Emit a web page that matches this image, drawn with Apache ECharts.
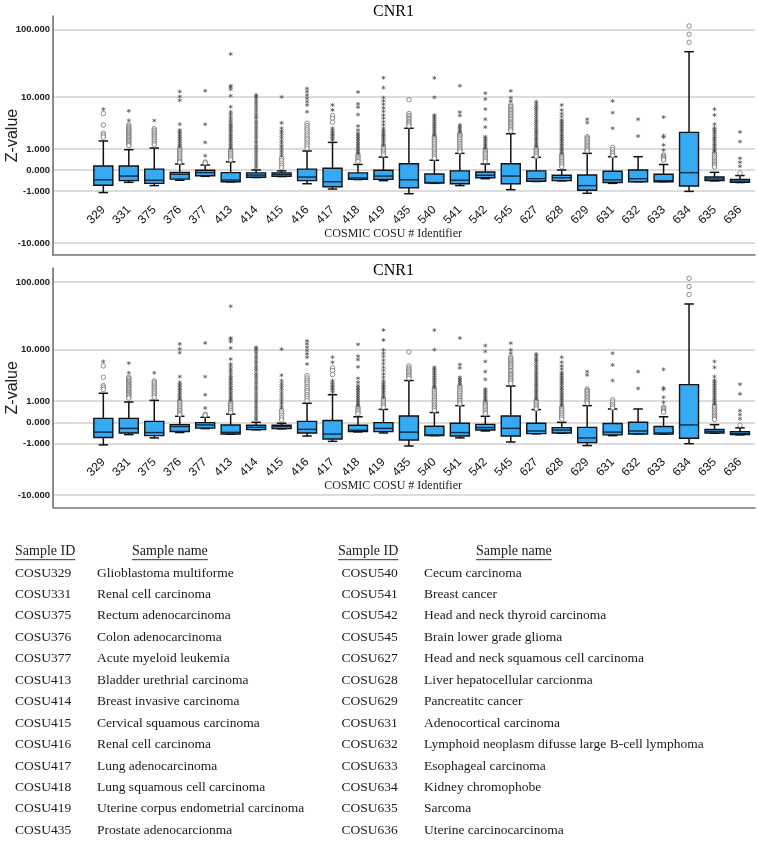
<!DOCTYPE html>
<html>
<head>
<meta charset="utf-8">
<title>CNR1</title>
<script src="https://cdn.jsdelivr.net/npm/echarts@6/dist/echarts.min.js"></script>
<style>
  html, body { margin: 0; padding: 0; background: #fff; }
  #main { width: 758px; height: 841px; }
</style>
</head>
<body>
<div id="main"></div>
<script>
// COSMIC COSU identifiers (x categories)
var categories = ['329', '331', '375', '376', '377', '413', '414', '415', '416', '417', '418', '419', '435',
  '540', '541', '542', '545', '627', '628', '629', '631', '632', '633', '634', '635', '636'];

// [lower whisker, Q1, median, Q3, upper whisker] in Z-value
var boxValues = [
  [-1.1, -0.65, -0.38, 0.14, 1.6],
  [-0.5, -0.42, -0.22, 0.14, 0.95],
  [-0.67, -0.55, -0.40, 0.03, 1.06],
  [-0.40, -0.35, -0.15, -0.08, 0.22],
  [-0.23, -0.21, -0.09, -0.01, 0.18],
  [-0.48, -0.47, -0.39, -0.09, 0.31],
  [-0.28, -0.27, -0.18, -0.10, 0.0],
  [-0.24, -0.23, -0.15, -0.10, -0.03],
  [-0.57, -0.42, -0.26, 0.03, 0.87],
  [-0.87, -0.73, -0.47, 0.06, 1.48],
  [-0.37, -0.36, -0.30, -0.10, 0.2],
  [-0.42, -0.36, -0.22, -0.01, 0.53],
  [-1.18, -0.79, -0.38, 0.23, 2.95],
  [-0.55, -0.54, -0.51, -0.14, 0.38],
  [-0.67, -0.57, -0.40, -0.03, 0.73],
  [-0.33, -0.29, -0.19, -0.07, 0.22],
  [-0.91, -0.57, -0.22, 0.23, 2.3],
  [-0.46, -0.45, -0.33, -0.03, 0.52],
  [-0.43, -0.42, -0.29, -0.19, 0.0],
  [-1.15, -0.95, -0.67, -0.18, 0.73],
  [-0.55, -0.51, -0.38, -0.04, 0.55],
  [-0.47, -0.47, -0.33, 0.0, 0.55],
  [-0.47, -0.47, -0.42, -0.15, 0.2],
  [-1.02, -0.69, -0.09, 2.45, 48],
  [-0.43, -0.42, -0.345, -0.26, -0.08],
  [-0.51, -0.5, -0.44, -0.36, -0.2]
];

// extreme outliers (*), one list per category
var starOutliers = [
  [6.4],
  [6.0, 4.1],
  [4.1],
  [12.2, 10.2, 8.9, 3.5, 2.73, 2.5, 2.35, 2.15, 2.0, 1.85, 1.68, 1.55, 1.4, 1.28, 1.15],
  [12.6, 3.5, 1.48, 0.6],
  [44.4, 15.0, 14.3, 13.2, 10.5, 7.0, 5.8, 5.3, 4.8, 4.4, 4.0, 3.65, 3.4, 3.16, 2.95, 2.73, 2.55, 2.35, 2.15, 2.0, 1.85, 1.68, 1.55, 1.4, 1.28, 1.15, 1.04],
  [10.8, 10.2, 9.6, 8.8, 8.0, 7.3, 6.6, 6.0, 5.4, 4.9, 4.5, 4.0, 3.65, 3.3, 2.95, 2.65, 2.35, 2.1, 1.85, 1.6, 1.4, 1.2, 1.04, 0.88, 0.73, 0.6, 0.47, 0.36, 0.25, 0.16, 0.08],
  [10.1, 3.7, 2.95, 2.6, 2.35, 2.1, 1.85, 1.6, 1.4, 1.2, 1.04, 0.88, 0.73, 0.6],
  [13.6, 12.2, 10.8, 9.6, 8.5, 7.5, 5.8],
  [7.5, 6.2, 2.95, 2.7, 2.5, 2.3, 2.16, 2.0, 1.85, 1.68],
  [12.0, 7.8, 6.9, 5.2, 3.25, 2.73, 2.35, 2.16, 2.0, 1.85, 1.7, 1.55, 1.4, 1.28, 1.15, 1.04, 0.93, 0.83, 0.73],
  [19.8, 14.0, 9.8, 8.7, 7.7, 6.7, 5.9, 5.1, 4.5, 3.9, 3.4, 2.95, 2.7, 2.5, 2.3, 2.16, 2.0, 1.85, 1.7, 1.55, 1.4, 1.28],
  [],
  [19.7, 9.9, 5.1, 4.8, 4.5, 4.2, 3.9, 3.65, 3.4, 3.16, 2.95, 2.73, 2.5, 2.3, 2.16],
  [15.0, 5.7, 5.0, 3.4, 3.16, 2.95, 2.73, 2.5],
  [11.5, 9.3, 6.4, 4.3, 3.1, 2.0, 1.85, 1.7, 1.55, 1.4, 1.28, 1.15, 1.04],
  [12.5, 9.8, 8.7],
  [8.5, 7.9, 7.3, 6.8, 6.4, 5.9, 5.4, 5.0, 4.6, 4.2, 3.9, 3.6, 3.3, 3.05, 2.8, 2.6, 2.4, 2.2, 2.0, 1.85, 1.7, 1.55, 1.4, 1.28, 1.15],
  [7.5, 6.2, 5.4, 4.8, 4.18, 3.9, 3.65, 3.4, 3.16, 2.95, 2.73, 2.55, 2.35, 2.15, 2.0, 1.85, 1.68, 1.55, 1.4, 1.28, 1.15, 1.04, 0.93, 0.83, 0.73],
  [4.3, 3.75],
  [8.7, 5.6, 2.95],
  [4.3, 2.05],
  [4.7, 2.1, 1.95, 1.28, 0.93],
  [],
  [6.4, 5.1, 3.5, 3.0, 2.8, 2.6, 2.4, 2.2, 2.0, 1.85, 1.7, 1.55, 1.4, 1.28, 1.15, 1.04, 0.93, 0.83],
  [2.5, 1.55, 0.47, 0.29, 0.13]
];

// mild outliers (o), one list per category
var circleOutliers = [
  [5.4, 3.4, 2.35, 2.16, 1.95],
  [3.39, 3.2, 3.0, 2.85, 2.73, 2.6, 2.46, 2.35, 2.23, 2.1, 2.0, 1.9, 1.77, 1.68, 1.6, 1.5, 1.4, 1.3, 1.22],
  [2.9, 2.7, 2.5, 2.3, 2.16, 2.0, 1.85, 1.7, 1.55, 1.4, 1.28],
  [1.04, 0.93, 0.83, 0.73, 0.64, 0.55, 0.47, 0.39, 0.32, 0.29],
  [0.3, 0.26],
  [0.93, 0.83, 0.73, 0.64, 0.55, 0.47, 0.39],
  [],
  [0.47, 0.36, 0.25, 0.16, 0.08],
  [3.65, 3.3, 3.0, 2.75, 2.5, 2.25, 2.05, 1.85, 1.7, 1.5, 1.35, 1.2, 1.04],
  [5.0, 4.5, 3.8],
  [0.65, 0.55, 0.47, 0.39, 0.32],
  [1.15, 1.04, 0.93, 0.83, 0.73, 0.64],
  [9.1, 5.4, 5.0, 4.7, 4.4, 4.2, 3.9, 3.7, 3.5, 3.25],
  [2.0, 1.85, 1.7, 1.55, 1.4, 1.28, 1.15, 1.04, 0.93, 0.83, 0.73, 0.64, 0.55, 0.47],
  [2.3, 2.16, 2.0, 1.85, 1.7, 1.55, 1.4, 1.28, 1.15, 1.04, 0.93, 0.83],
  [0.93, 0.83, 0.73, 0.65, 0.55, 0.47, 0.39, 0.32],
  [7.5, 7.1, 6.7, 6.3, 6.0, 5.7, 5.4, 5.1, 4.8, 4.5, 4.3, 4.0, 3.8, 3.6, 3.4, 3.2, 3.0, 2.8, 2.6],
  [1.04, 0.93, 0.83, 0.73, 0.64, 0.55],
  [0.64, 0.55, 0.47, 0.39, 0.32, 0.25, 0.18, 0.11],
  [2.0, 1.85, 1.75, 1.6, 1.48, 1.35, 1.25, 1.15, 1.04, 0.95, 0.87],
  [1.1, 0.95, 0.8, 0.7, 0.6],
  [],
  [0.64, 0.57, 0.5, 0.44, 0.39],
  [113, 85.8, 65.7],
  [0.73, 0.65, 0.55, 0.47, 0.39, 0.32, 0.26, 0.2, 0.15, 0.1],
  [-0.1]
];

var yTickValues = [-10, -1, 0, 1, 10, 100];

var sampleNames = [
  'Glioblastoma multiforme', 'Renal cell carcinoma', 'Rectum adenocarcinoma', 'Colon adenocarcinoma',
  'Acute myeloid leukemia', 'Bladder urethrial carcinoma', 'Breast invasive carcinoma',
  'Cervical squamous carcinoma', 'Renal cell carcinoma', 'Lung adenocarcinoma',
  'Lung squamous cell carcinoma', 'Uterine corpus endometrial carcinoma', 'Prostate adenocarcionma',
  'Cecum carcinoma', 'Breast cancer', 'Head and neck thyroid carcinoma', 'Brain lower grade glioma',
  'Head and neck squamous cell carcinoma', 'Liver hepatocellular carcionma', 'Pancreatitc cancer',
  'Adenocortical carcinoma', 'Lymphoid neoplasm difusse large B-cell lymphoma', 'Esophageal carcinoma',
  'Kidney chromophobe', 'Sarcoma', 'Uterine carcinocarcinoma'
];

// the y axis is drawn on a sign(v)*log10(1+|v|) scale
function tf(v) { return Math.sign(v) * Math.log10(1 + Math.abs(v)); }
function untf(t) { return Math.sign(t) * (Math.pow(10, Math.abs(t)) - 1); }

var SANS = '"Liberation Sans", Arial, sans-serif';
var SERIF = '"Liberation Serif", "Times New Roman", serif';
var Y_MIN = -1.214, Y_MAX = 2.2;
var PLOT_H = 239;
var BOX_FILL = '#35aaf2', INK = '#111';
var panels = [
  { top: 16, titleTop: 4 },
  { top: 268.3, titleTop: 263 }
];

var starData = [], circleData = [];
categories.forEach(function (c, k) {
  starOutliers[k].forEach(function (v) { starData.push([k, tf(v)]); });
  circleOutliers[k].forEach(function (v) { circleData.push([k, tf(v)]); });
});
// [index, low, q1, median, q3, high] on the transformed scale
var boxData = boxValues.map(function (b, k) { return [k].concat(b.map(tf)); });
var tickT = yTickValues.map(tf);

// SPSS-style box: whisker caps are half the box width
function renderBox(params, api) {
  var x = api.value(0);
  var pLow = api.coord([x, api.value(1)]);
  var pQ1 = api.coord([x, api.value(2)]);
  var pMed = api.coord([x, api.value(3)]);
  var pQ3 = api.coord([x, api.value(4)]);
  var pHigh = api.coord([x, api.value(5)]);
  var band = api.size([1, 0])[0];
  var hw = band * 0.373, cw = hw / 2, cx = pMed[0];
  var line = { stroke: INK, lineWidth: 1.5 };
  return {
    type: 'group',
    children: [
      { type: 'line', shape: { x1: cx, y1: pHigh[1], x2: cx, y2: pQ3[1] }, style: line },
      { type: 'line', shape: { x1: cx, y1: pLow[1], x2: cx, y2: pQ1[1] }, style: line },
      { type: 'line', shape: { x1: cx - cw, y1: pHigh[1], x2: cx + cw, y2: pHigh[1] }, style: line },
      { type: 'line', shape: { x1: cx - cw, y1: pLow[1], x2: cx + cw, y2: pLow[1] }, style: line },
      { type: 'rect', shape: { x: cx - hw, y: pQ3[1], width: hw * 2, height: pQ1[1] - pQ3[1] },
        style: { fill: BOX_FILL, stroke: INK, lineWidth: 1.4 } },
      { type: 'line', shape: { x1: cx - hw, y1: pMed[1], x2: cx + hw, y2: pMed[1] }, style: { stroke: '#0d2a45', lineWidth: 1.4 } }
    ]
  };
}

var grid = [], xAxis = [], yAxis = [], series = [], title = [];
panels.forEach(function (p, i) {
  var g0 = i * 2, g1 = i * 2 + 1;
  // frame + gridlines
  grid.push({ left: 53, right: 3, top: p.top, height: PLOT_H, outerBoundsMode: 'none' });
  // boxes
  grid.push({ left: 90.6, right: 5.3, top: p.top, height: PLOT_H, outerBoundsMode: 'none' });

  title.push({
    text: 'CNR1', left: 373, top: p.titleTop, padding: 0,
    textStyle: { fontFamily: SERIF, fontSize: 16, fontWeight: 'normal', color: '#000' }
  });

  xAxis.push({
    gridIndex: g0, type: 'value', min: 0, max: 1,
    axisLine: { show: true, onZero: false, lineStyle: { color: '#777', width: 1.5 } },
    axisTick: { show: false }, axisLabel: { show: false }, splitLine: { show: false }
  });
  // labels sit inside the plot, between the -1 and -10 gridlines
  xAxis.push({
    gridIndex: g1, type: 'category', data: categories, boundaryGap: true,
    axisLine: { show: false, onZero: false },
    axisTick: { show: false },
    axisLabel: { interval: 0, rotate: 45, margin: -47, fontFamily: SANS, fontSize: 12, color: '#111' },
    splitLine: { show: false },
    name: 'COSMIC COSU # Identifier', nameLocation: 'middle', nameGap: -27, nameMoveOverlap: false,
    nameTextStyle: { fontFamily: SERIF, fontSize: 12, color: '#222', padding: [0, 57, 0, 0] }
  });

  yAxis.push({
    gridIndex: g0, type: 'value', min: Y_MIN, max: Y_MAX,
    axisLine: { show: true, onZero: false, lineStyle: { color: '#666', width: 1.5 } },
    axisTick: { show: false, customValues: tickT },
    axisLabel: {
      customValues: tickT, margin: 3,
      formatter: function (v) { return untf(v).toFixed(3); },
      fontFamily: SANS, fontWeight: 'bold', fontSize: 9.5, color: '#222'
    },
    splitLine: { show: true, lineStyle: { color: '#d0d0d0', width: 1.5 } },
    name: 'Z-value', nameLocation: 'middle', nameGap: 32, nameMoveOverlap: false,
    nameTextStyle: { fontFamily: SANS, fontSize: 16, color: '#222' }
  });
  yAxis.push({ gridIndex: g1, type: 'value', min: Y_MIN, max: Y_MAX, show: false });

  series.push({
    type: 'custom', xAxisIndex: g1, yAxisIndex: g1, data: boxData, silent: true,
    encode: { x: 0, y: [1, 2, 3, 4, 5] },
    renderItem: renderBox
  });
  series.push({
    type: 'scatter', xAxisIndex: g1, yAxisIndex: g1, data: circleData, silent: true,
    symbol: 'circle', symbolSize: 4.5,
    itemStyle: { color: '#fff', borderColor: '#666', borderWidth: 0.9 }
  });
  series.push({
    type: 'scatter', xAxisIndex: g1, yAxisIndex: g1, data: starData, silent: true,
    symbol: 'path://M5,0L5,10M0.67,2.5L9.33,7.5M0.67,7.5L9.33,2.5', symbolSize: 4,
    itemStyle: { color: '#444', borderColor: '#444', borderWidth: 0.8 }
  });
});

// sample table under the charts
var measure = document.createElement('canvas').getContext('2d');
var headFont = '14px ' + SERIF;
var rowFont = '13.5px ' + SERIF;
measure.font = headFont;
var graphic = [];
var columns = [
  { idX: 15, nameX: 97, headIdX: 15, headNameX: 132, from: 0 },
  { idX: 341.5, nameX: 424, headIdX: 338, headNameX: 476, from: 13 }
];
var HEAD_Y = 551.7, ROW_Y = 573, ROW_STEP = 21.45;
columns.forEach(function (col) {
  [['Sample ID', col.headIdX], ['Sample name', col.headNameX]].forEach(function (h) {
    var w = measure.measureText(h[0]).width;
    graphic.push({ type: 'text', x: h[1], y: HEAD_Y, style: { text: h[0], font: headFont, fill: '#1a1a1a', verticalAlign: 'middle' } });
    graphic.push({ type: 'line', shape: { x1: h[1], y1: HEAD_Y + 8, x2: h[1] + w, y2: HEAD_Y + 8 }, style: { stroke: '#333', lineWidth: 1 } });
  });
  for (var r = 0; r < 13; r++) {
    var k = col.from + r;
    var y = ROW_Y + r * ROW_STEP;
    graphic.push({ type: 'text', x: col.idX, y: y, style: { text: 'COSU' + categories[k], font: rowFont, fill: '#1a1a1a', verticalAlign: 'middle' } });
    graphic.push({ type: 'text', x: col.nameX, y: y, style: { text: sampleNames[k], font: rowFont, fill: '#1a1a1a', verticalAlign: 'middle' } });
  }
});

var chart = echarts.init(document.getElementById('main'), null, { renderer: 'canvas' });
chart.setOption({
  animation: false,
  backgroundColor: '#fff',
  title: title,
  grid: grid,
  xAxis: xAxis,
  yAxis: yAxis,
  series: series,
  graphic: graphic
});
</script>
</body>
</html>
